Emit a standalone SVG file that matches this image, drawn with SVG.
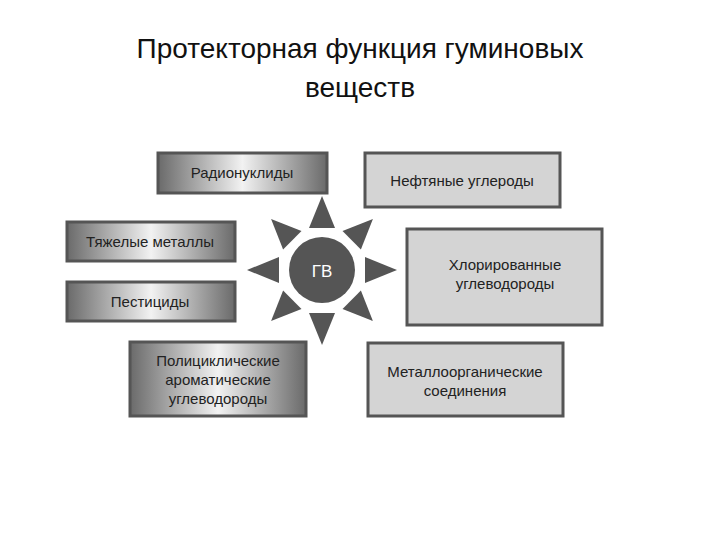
<svg xmlns="http://www.w3.org/2000/svg" width="720" height="540" viewBox="0 0 720 540">
<defs>
<linearGradient id="g" x1="0" x2="1" y1="0" y2="0">
<stop offset="0" stop-color="#6a6a6a"/><stop offset="0.5" stop-color="#f2f2f2"/><stop offset="1" stop-color="#6a6a6a"/>
</linearGradient>
<style>
.l{fill:url(#g);stroke:#555;stroke-width:3}
.r{fill:#d4d4d4;stroke:#555;stroke-width:3}
text{font-family:"Liberation Sans",Arial,sans-serif;fill:#222;text-anchor:middle}
.t{font-size:15px}
.ray{fill:#555}
</style>
</defs>
<rect width="720" height="540" fill="#fff"/>
<text x="360" y="58" font-size="28" style="fill:#111">Протекторная функция гуминовых</text>
<text x="360" y="97" font-size="28" style="fill:#111">веществ</text>
<g id="rays">
<g transform="translate(322,270)">
<polygon class="ray" points="0,-74 -13,-42 13,-42"/>
<polygon class="ray" points="0,-72 -13,-42 13,-42" transform="rotate(45)"/>
<polygon class="ray" points="0,-75 -13,-43 13,-43" transform="rotate(90)"/>
<polygon class="ray" points="0,-72 -13,-42 13,-42" transform="rotate(135)"/>
<polygon class="ray" points="0,-75 -13,-43 13,-43" transform="rotate(180)"/>
<polygon class="ray" points="0,-72 -13,-42 13,-42" transform="rotate(225)"/>
<polygon class="ray" points="0,-75 -13,-43 13,-43" transform="rotate(270)"/>
<polygon class="ray" points="0,-72 -13,-42 13,-42" transform="rotate(315)"/>
</g>
</g>
<g id="gv"><circle cx="322" cy="270" r="33" fill="#555"/><text x="322" y="277" font-size="17" style="fill:#fff">ГВ</text></g>
<g id="n1"><rect class="l" x="158" y="153" width="169" height="40"/><text class="t" x="242" y="178">Радионуклиды</text></g>
<g id="n2"><rect class="r" x="365" y="153" width="195" height="54"/><text class="t" x="462" y="186">Нефтяные углероды</text></g>
<g id="n3"><rect class="l" x="67" y="222" width="168" height="39"/><text class="t" x="150" y="247">Тяжелые металлы</text></g>
<g id="n4"><rect class="l" x="67" y="282" width="168" height="39"/><text class="t" x="150" y="307">Пестициды</text></g>
<g id="n5"><rect class="l" x="130" y="342" width="176" height="74"/><text class="t" x="218" y="366">Полициклические</text><text class="t" x="218" y="385">ароматические</text><text class="t" x="218" y="404">углеводороды</text></g>
<g id="n6"><rect class="r" x="407" y="229" width="195" height="96"/><text class="t" x="505" y="270">Хлорированные</text><text class="t" x="505" y="289">углеводороды</text></g>
<g id="n7"><rect class="r" x="368" y="343" width="195" height="73"/><text class="t" x="465" y="377">Металлоорганические</text><text class="t" x="465" y="396">соединения</text></g>
</svg>
